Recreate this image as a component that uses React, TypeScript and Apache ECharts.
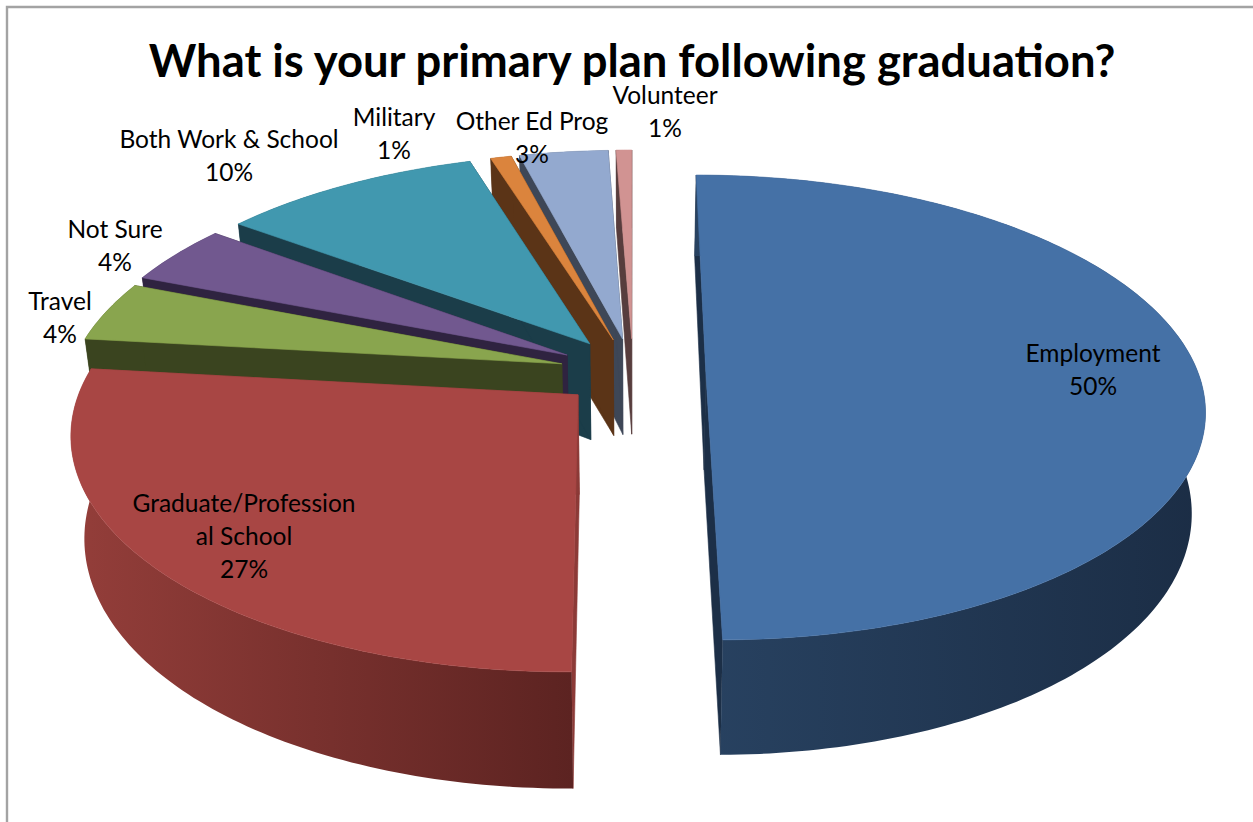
import React, { useEffect, useRef } from "react";
import * as echarts from "echarts";

const titleText = "What is your primary plan following graduation?";
const categories = ["Employment", "Graduate/Professional School", "Travel", "Not Sure", "Both Work & School", "Military", "Other Ed Prog", "Volunteer"];
const labelLines = [["Employment"], ["Graduate/Profession", "al School"], ["Travel"], ["Not Sure"], ["Both Work & School"], ["Military"], ["Other Ed Prog"], ["Volunteer"]];
const values = [49.9, 26.9, 4.2, 4.2, 10.0, 0.8, 3.4, 0.6];
const explosions = [0.148, 0.148, 0.15, 0.155, 0.155, 0.15, 0.15, 0.15];
const topColors = ["#4571a6", "#a84644", "#89a54e", "#71588f", "#4198af", "#db843d", "#93a9cf", "#d19392"];
const faceColors = ["#1c2f47", "#8c3a37", "#3a441f", "#2f2340", "#1b3d49", "#5b3417", "#3e4757", "#573d3d"];
const wallStops: string[][] = [["#284261", "#1b2d45"], ["#943e3a", "#5c2321"], ["#3a441f", "#3a441f"], ["#2f2340", "#2f2340"], ["#1b3d49", "#1b3d49"], ["#5b3417", "#5b3417"], ["#3e4757", "#3e4757"], ["#573d3d", "#573d3d"]];
const drawOrder = [0, 7, 6, 5, 4, 3, 2, 1];
const labelCenters = [[1093, 353], [244, 503], [60, 301], [115, 229], [229, 139], [394, 117], [532, 121], [665, 95]];

const OX = 633, OY = 372, AX = 492, AY = 227, K = 0.153;
const total = values.reduce((a, b) => a + b, 0);

function top(X: number, Z: number) {
  const w = 1 - K * Z;
  return [OX + (AX * X) / w, OY + (AY * Z) / w];
}
function bottom(X: number, Z: number) {
  const [x, y] = top(X, Z);
  return [OX + (x - OX) * 0.976, y + 98 + 17 * Z];
}

function renderSlice(params: any, api: any) {
  const i = api.value(0);
  const v = api.value(1);
  const before = values.slice(0, i).reduce((a, b) => a + b, 0);
  const a0 = (before / total) * Math.PI * 2;
  const a1 = ((before + v) / total) * Math.PI * 2;
  const mid = (a0 + a1) / 2;
  const cX = explosions[i] * Math.sin(mid);
  const cZ = -explosions[i] * Math.cos(mid);
  const rim: number[][] = [];
  const steps = Math.max(4, Math.ceil(((a1 - a0) * 180) / Math.PI));
  for (let s = 0; s <= steps; s++) {
    const a = a0 + ((a1 - a0) * s) / steps;
    rim.push([cX + Math.sin(a), cZ - Math.cos(a)]);
  }
  const apexT = top(cX, cZ);
  const apexB = bottom(cX, cZ);
  const rimT = rim.map(([x, z]) => top(x, z));
  const rimB = rim.map(([x, z]) => bottom(x, z));
  const z2 = drawOrder.indexOf(i) * 10;
  const poly = (points: number[][], fill: any, stroke: any, dz: number) => ({
    type: "polygon",
    z2: z2 + dz,
    shape: { points },
    style: { fill, stroke, lineWidth: 0.6 },
  });
  const face = faceColors[i];
  const wall = new echarts.graphic.LinearGradient(0, 0, 1, 0, [
    { offset: 0, color: wallStops[i][0] },
    { offset: 1, color: wallStops[i][1] },
  ]);
  return {
    type: "group",
    children: [
      poly([apexT, rimT[0], rimB[0], apexB], face, face, 0),
      poly([apexT, rimT[steps], rimB[steps], apexB], face, face, 1),
      poly([...rimT, ...rimB.slice().reverse()], wall, "none", 2),
      poly([apexT, ...rimT], topColors[i], topColors[i], 3),
    ],
  };
}

export default function App() {
  const ref = useRef<HTMLDivElement>(null);
  useEffect(() => {
    const chart = echarts.init(ref.current!, undefined, { renderer: "svg" });
    chart.setOption({
      animation: false,
      backgroundColor: "#ffffff",
      title: {
        text: titleText,
        left: 627,
        top: 32,
        textAlign: "center",
        textStyle: { fontFamily: "Lato", fontWeight: "bold", fontSize: 45.4, color: "#000000" },
      },
      graphic: [
        {
          type: "polyline",
          silent: true,
          shape: { points: [[7, 822], [7, 7], [1253, 7]] },
          style: { stroke: "#a3a3a3", lineWidth: 2.4, fill: "none" },
        },
        ...categories.map((c, i) => ({
          type: "text",
          silent: true,
          z: 20,
          x: labelCenters[i][0],
          y: labelCenters[i][1] - 16.35,
          style: {
            text: [...labelLines[i], `${Math.round(values[i])}%`].join("\n"),
            fontFamily: "Lato",
            fontSize: 24.5,
            lineHeight: 32.7,
            fill: "#000000",
            align: "center",
            verticalAlign: "top",
          },
        })),
      ],
      series: [
        {
          type: "custom",
          coordinateSystem: "none",
          silent: true,
          clip: false,
          renderItem: renderSlice,
          data: values.map((v, i) => [i, v]),
        },
      ],
    });
    return () => chart.dispose();
  }, []);
  return <div ref={ref} style={{ position: "fixed", left: 0, top: 0, width: 1253, height: 822 }} />;
}
